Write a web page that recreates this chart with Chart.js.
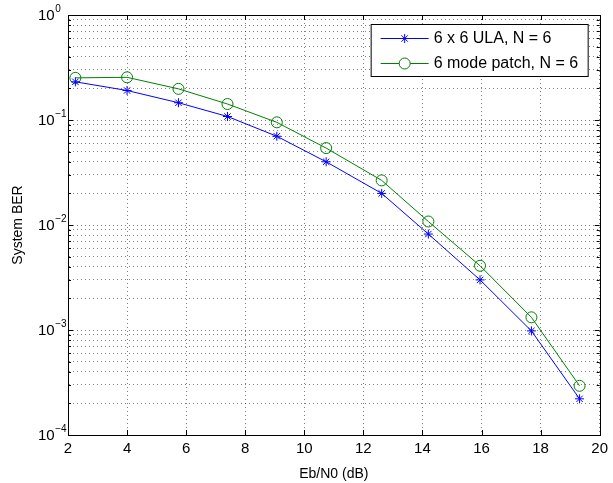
<!DOCTYPE html>
<html>
<head>
<meta charset="utf-8">
<script src="https://cdn.jsdelivr.net/npm/chart.js@4/dist/chart.umd.min.js"></script>
<style>
  body { margin: 0; background: #fff; }
  #wrap { width: 613px; height: 483px; }
</style>
</head>
<body>
<div id="wrap"><canvas id="ber-chart" width="613" height="483"></canvas></div>
<script>
// Eb/N0 (dB) sample points and BER for both systems
const ebn0 = [2.25, 4.0, 5.74, 7.4, 9.07, 10.74, 12.62, 14.2, 15.95, 17.69, 19.32];
const berUla = [0.231, 0.191, 0.146, 0.108, 0.070, 0.040, 0.020, 0.0082, 0.0030, 0.00098, 0.000221];
const berPatch = [0.252, 0.255, 0.198, 0.142, 0.095, 0.054, 0.0266, 0.0108, 0.00409, 0.00132, 0.000294];

const seriesLabels = ['6 x 6 ULA, N = 6', '6 mode patch, N = 6'];
const xTicks = [2, 4, 6, 8, 10, 12, 14, 16, 18, 20];
const yDecades = [-4, -3, -2, -1, 0];

const FONT = '"Liberation Sans", Arial, Helvetica, sans-serif';

// all 1..9 x 10^e positions for the minor grid
const yGridValues = [];
yDecades.forEach(e => {
    for (let m = 1; m <= 9; m++) {
        if (e === 0 && m > 1) break;
        yGridValues.push(m * Math.pow(10, e));
    }
});

// box, inward ticks, 10^n labels and the legend, MATLAB style
const matlabAxes = {
    id: 'matlabAxes',
    afterDraw(chart) {
        const ctx = chart.ctx;
        const area = chart.chartArea;
        const xs = chart.scales.x;
        const ys = chart.scales.y;
        ctx.save();

        // ticks
        ctx.strokeStyle = '#000';
        ctx.lineWidth = 1;
        ctx.beginPath();
        xTicks.forEach(v => {
            const px = Math.round(xs.getPixelForValue(v)) + 0.5;
            ctx.moveTo(px, area.bottom); ctx.lineTo(px, area.bottom - 5);
            ctx.moveTo(px, area.top); ctx.lineTo(px, area.top + 5);
        });
        yGridValues.forEach(v => {
            const py = Math.round(ys.getPixelForValue(v)) + 0.5;
            const isMajor = Math.abs(Math.log10(v) - Math.round(Math.log10(v))) < 1e-9;
            const len = isMajor ? 5 : 3;
            ctx.moveTo(area.left, py); ctx.lineTo(area.left + len, py);
            ctx.moveTo(area.right, py); ctx.lineTo(area.right - len, py);
        });
        ctx.stroke();

        // box
        ctx.strokeRect(Math.round(area.left) + 0.5, Math.round(area.top) + 0.5,
            Math.round(area.right - area.left), Math.round(area.bottom - area.top));

        // y tick labels 10^n
        ctx.fillStyle = '#000';
        ctx.textBaseline = 'middle';
        ctx.textAlign = 'left';
        yDecades.forEach(e => {
            const py = ys.getPixelForValue(Math.pow(10, e));
            ctx.font = '15px ' + FONT;
            ctx.fillText('10', 38, py + 1);
            const w = ctx.measureText('10').width;
            ctx.font = '10px ' + FONT;
            ctx.fillText(e === 0 ? '0' : '\u2212' + Math.abs(e), 38 + w + 0.5, py - 6);
        });

        // legend
        const lx = area.right - 229, ly = area.top + 9, lw = 217, lh = 52;
        ctx.fillStyle = '#fff';
        ctx.fillRect(lx, ly, lw, lh);
        ctx.strokeStyle = '#000';
        ctx.strokeRect(lx + 0.5, ly + 0.5, lw, lh);
        chart.data.datasets.forEach((ds, i) => {
            const cy = ly + 14 + i * 25;
            ctx.strokeStyle = ds.borderColor;
            ctx.lineWidth = 1;
            ctx.beginPath();
            ctx.moveTo(lx + 10, cy + 0.5);
            ctx.lineTo(lx + 58, cy + 0.5);
            ctx.stroke();
            ctx.fillStyle = '#fff';
            Chart.helpers.drawPoint(ctx, {
                pointStyle: ds.pointStyle,
                radius: ds.pointRadius,
                borderWidth: 1
            }, lx + 34, cy + 0.5);
            ctx.fillStyle = '#000';
            ctx.font = '16px ' + FONT;
            ctx.textBaseline = 'middle';
            ctx.fillText(ds.label, lx + 63, cy + 1);
        });

        ctx.restore();
    }
};

function makeSeries(values) {
    return values.map((v, i) => ({ x: ebn0[i], y: v }));
}

const chart = new Chart(document.querySelector('#ber-chart').getContext('2d'), {
    type: 'line',
    data: {
        datasets: [
            {
                label: seriesLabels[0],
                data: makeSeries(berUla),
                borderColor: '#0000ff',
                backgroundColor: '#0000ff',
                pointStyle: 'star',
                pointRadius: 4.5,
                pointBorderWidth: 1,
                borderWidth: 1,
                tension: 0
            },
            {
                label: seriesLabels[1],
                data: makeSeries(berPatch),
                borderColor: '#008000',
                backgroundColor: 'rgba(0,0,0,0)',
                pointStyle: 'circle',
                pointRadius: 5.5,
                pointBorderWidth: 1,
                borderWidth: 1,
                tension: 0
            }
        ]
    },
    options: {
        responsive: false,
        animation: false,
        layout: { padding: { left: 10, top: 15, right: 12, bottom: 0 } },
        plugins: {
            legend: { display: false },
            tooltip: { enabled: false }
        },
        scales: {
            x: {
                type: 'linear',
                min: 2,
                max: 20,
                afterBuildTicks: s => { s.ticks = xTicks.map(v => ({ value: v })); },
                afterFit: s => { s.height = 48; },
                ticks: {
                    color: '#000',
                    font: { family: FONT, size: 15 },
                    padding: 5,
                    maxRotation: 0,
                    autoSkip: false
                },
                grid: { color: 'rgba(0,0,0,0.5)', lineWidth: 1, tickLength: 0, drawTicks: false },
                border: { display: true, color: '#000', width: 1, dash: [1, 3] },
                title: {
                    display: true,
                    text: 'Eb/N0 (dB)',
                    color: '#000',
                    font: { family: FONT, size: 14 },
                    padding: { top: 2, bottom: 0 }
                }
            },
            y: {
                type: 'logarithmic',
                min: 1e-4,
                max: 1,
                afterBuildTicks: s => { s.ticks = yGridValues.map(v => ({ value: v })); },
                afterFit: s => { s.width = 58; },
                ticks: {
                    display: false,
                    autoSkip: false
                },
                grid: { color: 'rgba(0,0,0,0.5)', lineWidth: 1, tickLength: 0, drawTicks: false },
                border: { display: true, color: '#000', width: 1, dash: [1, 3] },
                title: {
                    display: true,
                    text: 'System BER',
                    color: '#000',
                    font: { family: FONT, size: 14 },
                    padding: { top: 0, bottom: 0 }
                }
            }
        }
    },
    plugins: [matlabAxes]
});
</script>
</body>
</html>
